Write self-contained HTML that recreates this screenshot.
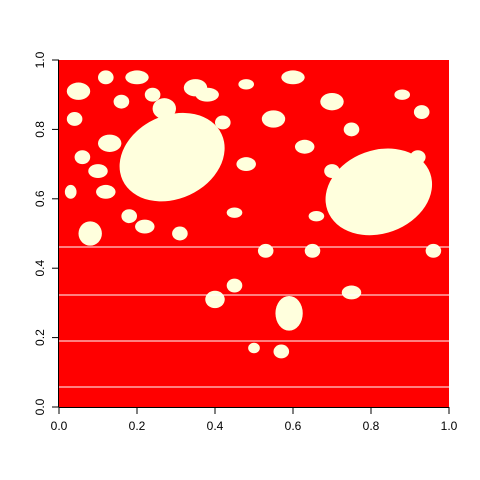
<!DOCTYPE html>
<html><head><meta charset="utf-8"><style>
body{margin:0;background:#fff}
svg{display:block;font-family:"Liberation Sans",sans-serif}
</style></head><body>
<svg width="480" height="480" viewBox="0 0 480 480">
<g>
<rect x="59" y="60" width="390" height="347" fill="#ff0000"/>
<g fill="#ffffdd" id="blobs"></g>
<g stroke="#ffffff" stroke-width="1">
<line x1="59" x2="449" y1="247" y2="247"/>
<line x1="59" x2="449" y1="295" y2="295"/>
<line x1="59" x2="449" y1="341" y2="341"/>
<line x1="59" x2="449" y1="387" y2="387"/>
</g>
</g>
<g stroke="#000" fill="none" id="xaxis"></g>
<g stroke="#000" fill="none" id="yaxis"></g>
</svg>
<script>
const ticks=[0,0.2,0.4,0.6,0.8,1.0];
const tickLabels=["0.0","0.2","0.4","0.6","0.8","1.0"];
const blobX=[0.29,0.82,0.59,0.05,0.13,0.08,0.04,0.22,0.35,0.42,0.48,0.55,0.63,0.70,0.75,0.93,0.96,0.66,0.53,0.40,0.45,0.38,0.27,0.12,0.20,0.60,0.70,0.75,0.50,0.57,0.88,0.92,0.31,0.48,0.65,0.10,0.16,0.03,0.18,0.24,0.12,0.06,0.45];
const blobY=[0.72,0.62,0.27,0.91,0.76,0.50,0.83,0.52,0.92,0.82,0.70,0.83,0.75,0.88,0.80,0.85,0.45,0.55,0.45,0.31,0.35,0.90,0.86,0.62,0.95,0.95,0.68,0.33,0.17,0.16,0.90,0.72,0.50,0.93,0.45,0.68,0.88,0.62,0.55,0.90,0.95,0.72,0.56];
const blobRX=[0.14,0.14,0.035,0.03,0.03,0.03,0.02,0.025,0.03,0.02,0.025,0.03,0.025,0.03,0.02,0.02,0.02,0.02,0.02,0.025,0.02,0.03,0.03,0.025,0.03,0.03,0.02,0.025,0.015,0.02,0.02,0.02,0.02,0.02,0.02,0.025,0.02,0.015,0.02,0.02,0.02,0.02,0.02];
const blobRY=[0.12,0.12,0.05,0.025,0.025,0.035,0.02,0.02,0.025,0.02,0.02,0.025,0.02,0.025,0.02,0.02,0.02,0.015,0.02,0.025,0.02,0.02,0.03,0.02,0.02,0.02,0.02,0.02,0.015,0.02,0.015,0.02,0.02,0.015,0.02,0.02,0.02,0.02,0.02,0.02,0.02,0.02,0.015];
const blobRot=[-25,-20,0,0,0,0,0,0,0,0,0,0,0,0,0,0,0,0,0,0,0,0,0,0,0,0,0,0,0,0,0,0,0,0,0,0,0,0,0,0,0,0,0];
const X0=59,X1=449,Y0=407,Y1=60;
const sx=v=>X0+v*(X1-X0), sy=v=>Y0-v*(Y0-Y1);
const NS="http://www.w3.org/2000/svg";
const g=document.getElementById('blobs');
for(let i=0;i<blobX.length;i++){
 const e=document.createElementNS(NS,'ellipse');
 e.setAttribute('cx',sx(blobX[i]));e.setAttribute('cy',sy(blobY[i]));
 e.setAttribute('rx',blobRX[i]*(X1-X0));e.setAttribute('ry',blobRY[i]*(Y0-Y1));
 e.setAttribute('transform',`rotate(${blobRot[i]} ${sx(blobX[i])} ${sy(blobY[i])})`);
 
 
 g.appendChild(e);
}
const xa=document.getElementById('xaxis'),ya=document.getElementById('yaxis');
function add(p,tag,attrs,txt){const e=document.createElementNS(NS,tag);for(const k in attrs)e.setAttribute(k,attrs[k]);if(txt!==undefined)e.textContent=txt;p.appendChild(e);return e;}
let l=add(xa,'line',{x1:X0,x2:X1,y1:407.5,y2:407.5});


l=add(ya,'line',{x1:58.5,x2:58.5,y1:Y0,y2:Y1});


ticks.forEach((t,i)=>{
 let a=add(xa,'line',{x1:sx(t),x2:sx(t),y1:407,y2:414});
 
 
 let b=add(xa,'text',{x:sx(t),y:430,'text-anchor':'middle','font-size':12,fill:'#000',stroke:'none'},tickLabels[i]);
 
 
 let c=add(ya,'line',{x1:52,x2:59,y1:sy(t),y2:sy(t)});
 
 
 let d=add(ya,'text',{x:44,y:sy(t),'text-anchor':'middle','font-size':12,fill:'#000',stroke:'none',transform:`rotate(-90 44 ${sy(t)})`},tickLabels[i]);
 
 
});
</script>
</body></html>
